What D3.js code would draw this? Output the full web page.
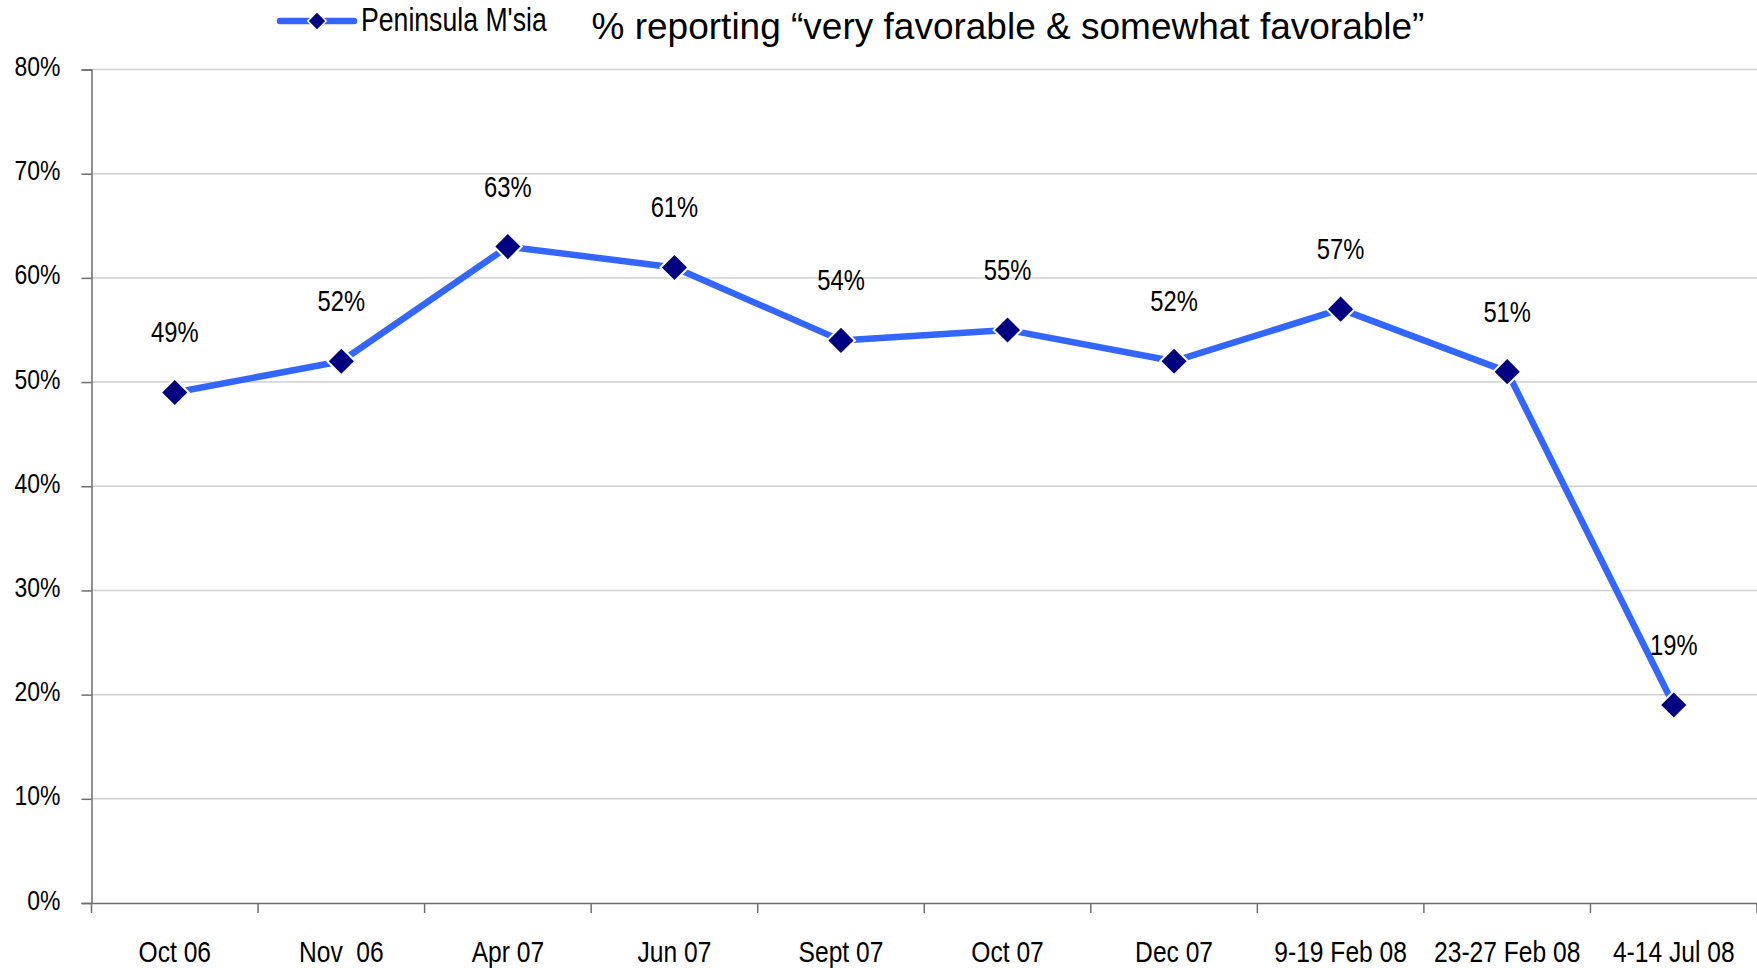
<!DOCTYPE html>
<html>
<head>
<meta charset="utf-8">
<script src="https://cdn.jsdelivr.net/npm/d3@7"></script>
<style>
html,body{margin:0;padding:0;background:#fff;}
svg{display:block;}
text{font-family:"Liberation Sans",Arial,sans-serif;}
</style>
</head>
<body>
<svg id="chart" width="1757" height="968"></svg>
<script>
const categories = ["Oct 06","Nov  06","Apr 07","Jun 07","Sept 07","Oct 07","Dec 07","9-19 Feb 08","23-27 Feb 08","4-14 Jul 08"];
const values = [0.49,0.52,0.63,0.61,0.54,0.55,0.52,0.57,0.51,0.19];
const yTicks = [0,0.1,0.2,0.3,0.4,0.5,0.6,0.7,0.8];
const seriesName = "Peninsula M'sia";
const titleText = "% reporting \u201cvery favorable & somewhat favorable\u201d";

const W = 1757, H = 968;
const margin = {left: 91.5, right: 0, top: 69.5, bottom: 65};
const NARROW = 0.82;
const svg = d3.select("#chart");

const x = d3.scaleBand().domain(categories).range([margin.left, W - margin.right]).padding(0);
const y = d3.scaleLinear().domain([0, 0.8]).range([H - margin.bottom, margin.top]);

const lineColor = "#3366ff", markerColor = "#000080", axisColor = "#6e6e6e", gridColor = "#cfcfcf";

function narrowText(sel, px, py) {
  sel.attr("x", 0).attr("y", 0)
     .attr("transform", function(d, i) {
       const X = typeof px === "function" ? px(d, i) : px;
       const Y = typeof py === "function" ? py(d, i) : py;
       return `translate(${X},${Y}) scale(${NARROW},1)`;
     });
  return sel;
}

// gridlines
svg.append("g").selectAll("line").data(yTicks.filter(d => d > 0)).join("line")
  .attr("x1", margin.left).attr("x2", W - margin.right)
  .attr("y1", d => y(d)).attr("y2", d => y(d))
  .attr("stroke", gridColor).attr("stroke-width", 1.5);

// y axis
const yAxis = svg.append("g").attr("transform", `translate(${margin.left},0)`)
  .call(d3.axisLeft(y).tickValues(yTicks).tickFormat(d3.format(".0%")).tickSize(10));
yAxis.select(".domain").attr("stroke", axisColor).attr("stroke-width", 1.5);
yAxis.selectAll(".tick line").attr("stroke", axisColor).attr("stroke-width", 1.5);
yAxis.selectAll(".tick text").attr("font-size", 28).attr("fill", "#000")
  .attr("dy", null).attr("text-anchor", "end")
  .call(narrowText, -31, 6);

// x axis
const xAxis = svg.append("g").attr("transform", `translate(0,${y(0)})`)
  .call(d3.axisBottom(x).tickSize(0).tickPadding(0));
xAxis.select(".domain").attr("stroke", axisColor).attr("stroke-width", 1.5);
xAxis.selectAll(".tick text").attr("font-size", 30).attr("fill", "#000")
  .attr("dy", null).style("white-space", "pre")
  .call(narrowText, 0, 59);
const bounds = categories.map(c => x(c)).concat([x(categories[categories.length-1]) + x.bandwidth()]);
xAxis.append("g").selectAll("line").data(bounds).join("line")
  .attr("x1", d => d).attr("x2", d => d).attr("y1", 0).attr("y2", 10)
  .attr("stroke", axisColor).attr("stroke-width", 1.5);

const cx = c => x(c) + x.bandwidth() / 2;
const data = categories.map((c, i) => ({c, v: values[i]}));

// line
svg.append("path").datum(data)
  .attr("fill", "none").attr("stroke", lineColor).attr("stroke-width", 6.5).attr("stroke-linejoin", "round")
  .attr("d", d3.line().x(d => cx(d.c)).y(d => y(d.v)));

// markers
const diamond = d3.symbol().type(d3.symbolSquare).size(390);
svg.append("g").selectAll("path").data(data).join("path")
  .attr("d", diamond())
  .attr("transform", d => `translate(${cx(d.c)},${y(d.v)}) rotate(45)`)
  .attr("fill", markerColor).attr("stroke", "#fff").attr("stroke-width", 2);

// data labels
svg.append("g").selectAll("text").data(data).join("text")
  .attr("text-anchor", "middle").attr("font-size", 29).attr("fill", "#000")
  .text(d => d3.format(".0%")(d.v))
  .call(narrowText, d => cx(d.c), d => y(d.v) - 50);

// legend
const lg = svg.append("g");
lg.append("line").attr("x1", 280).attr("x2", 354).attr("y1", 21).attr("y2", 21)
  .attr("stroke", lineColor).attr("stroke-width", 6.5).attr("stroke-linecap", "round");
lg.append("path").attr("d", d3.symbol().type(d3.symbolSquare).size(170)())
  .attr("transform", "translate(317,21) rotate(45)")
  .attr("fill", markerColor).attr("stroke", "#fff").attr("stroke-width", 1.5);
lg.append("text").attr("font-size", 32.5).attr("fill", "#000").text(seriesName)
  .call(narrowText, 361, 31);

// title
svg.append("text").attr("x", 1008).attr("y", 39).attr("text-anchor", "middle")
  .attr("font-size", 37).attr("fill", "#000")
  .text(titleText);
</script>
</body>
</html>
